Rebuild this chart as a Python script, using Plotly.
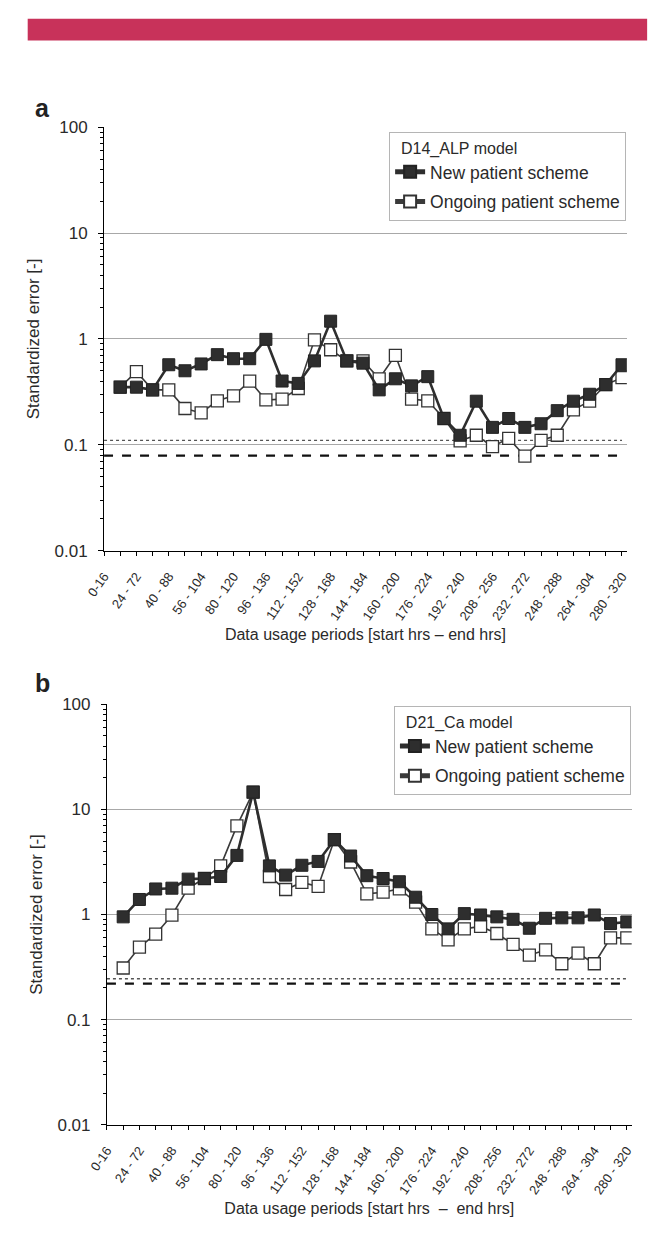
import plotly.graph_objects as go

# ---------------- data ----------------
categories = ["0-16", "16-64", "24 - 72", "32 - 80", "40 - 88", "48 - 96", "56 - 104", "64 - 112",
              "80 - 120", "88 - 128", "96 - 136", "104 - 144", "112 - 152", "120 - 160", "128 - 168",
              "136 - 176", "144 - 184", "152 - 192", "160 - 200", "168 - 208", "176 - 224", "184 - 232",
              "192 - 240", "200 - 248", "208 - 256", "216 - 264", "232 - 272", "240 - 280", "248 - 288",
              "256 - 296", "264 - 304", "272 - 312", "280 - 320"]
data_categories = categories[1:]

a_new = [0.35, 0.35, 0.33, 0.57, 0.50, 0.58, 0.71, 0.65, 0.65, 0.99, 0.40, 0.38, 0.62, 1.47, 0.62, 0.59,
         0.33, 0.42, 0.36, 0.44, 0.177, 0.123, 0.258, 0.146, 0.177, 0.146, 0.158, 0.21, 0.258, 0.30, 0.37, 0.57]
a_ongoing = [0.35, 0.49, 0.33, 0.33, 0.22, 0.20, 0.26, 0.29, 0.40, 0.265, 0.27, 0.34, 0.98, 0.79, 0.62, 0.62,
             0.42, 0.70, 0.27, 0.26, 0.177, 0.109, 0.123, 0.096, 0.115, 0.078, 0.11, 0.123, 0.214, 0.258, 0.37, 0.43]
b_new = [0.95, 1.39, 1.75, 1.78, 2.17, 2.2, 2.30, 3.65, 14.6, 2.90, 2.37, 2.94, 3.2, 5.15, 3.6, 2.34,
         2.2, 2.05, 1.46, 1.0, 0.73, 1.02, 0.99, 0.95, 0.90, 0.74, 0.92, 0.93, 0.93, 0.99, 0.82, 0.85]
b_ongoing = [0.31, 0.49, 0.65, 0.985, 1.78, 2.2, 2.9, 6.97, 14.6, 2.30, 1.73, 2.02, 1.85, 5.15, 3.16, 1.57,
             1.63, 1.75, 1.31, 0.73, 0.574, 0.73, 0.77, 0.66, 0.52, 0.41, 0.46, 0.34, 0.43, 0.34, 0.60, 0.60]

a_dotted, a_dashed = 0.11, 0.079
b_dotted, b_dashed = 0.245, 0.22

y_tick_vals = [0.01, 0.1, 1, 10, 100]
y_tick_text = ["0.01", "0.1", "1", "10", "100"]
x_tick_text = [c if i % 2 == 0 else "" for i, c in enumerate(categories)]

FONT = "Liberation Sans, Arial, sans-serif"
TXT = "#2a2a2a"
W, H = 654, 1249

fig = go.Figure()


def add_panel(xa, ya, leg, new, ongoing, dotted, dashed):
    for val, dash, width, color in [(dotted, "dot", 1.3, "#555555"), (dashed, "dash", 2.2, "#111111")]:
        fig.add_trace(go.Scatter(x=categories, y=[val] * len(categories), mode="lines",
                                 line=dict(color=color, width=width, dash=dash),
                                 xaxis=xa, yaxis=ya, showlegend=False, hoverinfo="skip"))
    fig.add_trace(go.Scatter(x=data_categories, y=ongoing, mode="lines+markers", name="Ongoing patient scheme",
                             line=dict(color="#3a3a3a", width=1.6),
                             marker=dict(symbol="square", size=12, color="white",
                                         line=dict(color="#333333", width=1.3)),
                             xaxis=xa, yaxis=ya, legend=leg, legendgroup=leg + "o", legendrank=2))
    fig.add_trace(go.Scatter(x=data_categories, y=new, mode="lines+markers", name="New patient scheme",
                             line=dict(color="#2e2e2e", width=2.6),
                             marker=dict(symbol="square", size=12, color="#2e2e2e",
                                         line=dict(color="#222222", width=1)),
                             xaxis=xa, yaxis=ya, legend=leg, legendgroup=leg + "n", legendrank=1))


add_panel("x", "y", "legend", a_new, a_ongoing, a_dotted, a_dashed)
add_panel("x2", "y2", "legend2", b_new, b_ongoing, b_dotted, b_dashed)

minor_vals = [m * 10 ** e for e in range(-2, 2) for m in range(2, 10)]


def xaxis(dom, title):
    return dict(domain=dom, type="category", categoryorder="array", categoryarray=categories,
                range=[0, 32.3], tickmode="array", tickvals=categories, ticktext=x_tick_text,
                tickangle=-55, ticks="outside", ticklen=4, tickcolor="black", showline=True,
                linecolor="black", linewidth=1, showgrid=False, zeroline=False,
                tickfont=dict(family=FONT, size=13, color=TXT), ticklabelstandoff=8,
                title=dict(text=title, font=dict(family=FONT, size=16, color=TXT), standoff=6))


def yaxis(dom):
    return dict(domain=dom, type="log", range=[-2, 2], tickmode="array", tickvals=y_tick_vals,
                ticktext=y_tick_text, ticks="outside", ticklen=5, tickcolor="black", showline=True,
                linecolor="black", linewidth=1, showgrid=True, gridcolor="#a8a8a8", gridwidth=1,
                zeroline=False, tickfont=dict(family=FONT, size=17, color=TXT), ticklabelstandoff=7,
                minor=dict(tickmode="array", tickvals=minor_vals, ticks="outside", ticklen=3,
                           tickcolor="black", showgrid=False),
                title=dict(text="Standardized error [-]", font=dict(family=FONT, size=17, color=TXT), standoff=10))


def legend(x, y, title):
    return dict(x=x, y=y, xanchor="left", yanchor="top", bgcolor="white", bordercolor="#b5b5b5",
                borderwidth=1, font=dict(family=FONT, size=17.5, color=TXT), tracegroupgap=4,
                itemwidth=30,
                title=dict(text="\u00a0\u00a0" + title, font=dict(family=FONT, size=16, color=TXT)),
                itemsizing="constant", traceorder="grouped")


fig.update_layout(
    width=W, height=H, margin=dict(l=0, r=0, t=0, b=0),
    paper_bgcolor="white", plot_bgcolor="white",
    xaxis=xaxis([88 / W, 629 / W], "Data usage periods [start hrs – end hrs]"),
    yaxis=yaxis([1 - 550 / H, 1 - 120 / H]),
    xaxis2=dict(xaxis([91 / W, 634 / W], "Data usage periods [start hrs \u00a0–\u00a0 end hrs]"), anchor="y2"),
    yaxis2=dict(yaxis([1 - 1133 / H, 1 - 706 / H]), anchor="x2"),
    legend=legend(383 / W, 1 - 125 / H, "D14_ALP model"),
    legend2=legend(388 / W, 1 - 708 / H, "D21_Ca model"),
    shapes=[dict(type="rect", xref="paper", yref="paper", x0=9 / W, x1=650 / W, y0=1 - 32 / H, y1=1 - 10 / H,
                 fillcolor="#c8325a", line=dict(width=0), layer="above")],
    annotations=[
        dict(text="<b>a</b>", x=14 / W, y=1 - 101 / H, xref="paper", yref="paper", xanchor="left",
             yanchor="middle", showarrow=False, font=dict(family=FONT, size=25, color="#222222")),
        dict(text="<b>b</b>", x=14 / W, y=1 - 684 / H, xref="paper", yref="paper", xanchor="left",
             yanchor="middle", showarrow=False, font=dict(family=FONT, size=25, color="#222222")),
    ],
)

fig.write_html("out.html")
